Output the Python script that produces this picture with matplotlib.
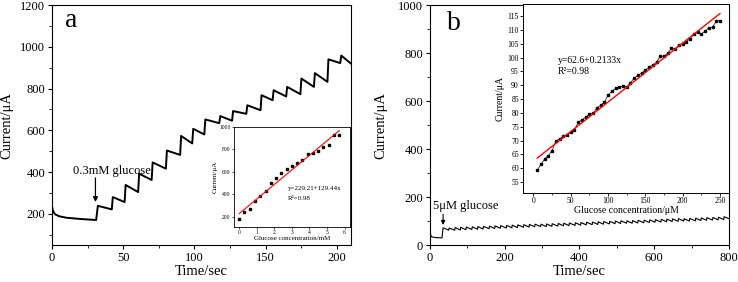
import matplotlib
matplotlib.use('Agg')
import matplotlib.pyplot as plt
from matplotlib.ticker import MultipleLocator

plt.rcParams['font.family'] = ['Liberation Serif', 'DejaVu Serif']
plt.rcParams['mathtext.fontset'] = 'stix'

# ---- panel a: amperometric trace (0.3 mM additions) ----
a_start_t = [0, 0.6, 2, 5, 10, 20, 31]
a_start_v = [236, 215, 198, 188, 181, 175, 170]
a_step_t = [31.5, 42, 51, 60.5, 70, 80, 90, 98.5, 107, 117.5, 126.5, 136.5,
            146.5, 155, 164.5, 174.5, 184, 193.5, 202.5]
a_peak = [238, 280, 338, 392, 446, 503, 573, 607, 652, 668, 692, 720,
          768, 792, 808, 848, 874, 940, 958]
a_trough = [221, 256, 304, 362, 416, 482, 537, 580, 634, 646, 679, 696,
            744, 762, 773, 808, 832, 922, 920]
a_end_t = 210

# inset a: calibration
a_conc = [0, 0.3, 0.6, 0.9, 1.2, 1.5, 1.8, 2.1, 2.4, 2.7, 3.0, 3.3, 3.6,
          3.9, 4.2, 4.5, 4.8, 5.1, 5.4, 5.7]
a_curr = [180, 240, 272, 338, 389, 434, 503, 545, 587, 623, 653, 683, 707,
          757, 766, 784, 820, 838, 928, 928]
a_fit_x = [0, 5.7]
a_fit_y = [229.21, 967.02]

# ---- panel b: amperometric trace (5 uM additions) ----
b_start_t = [0, 0.5, 2, 5, 15, 32]
b_start_v = [95, 60, 40, 34, 31, 30]
b_step_t = [34, 50, 66, 81, 96, 112, 127, 142, 158, 173, 188, 204, 219, 234,
            250, 265, 280, 296, 311, 326, 342, 357, 372, 388, 403, 418, 434,
            449, 464, 480, 495, 510, 526, 541, 556, 572, 587, 602, 618, 633,
            648, 664, 679, 694, 710, 725, 740, 756, 771, 786]
b_peak = [72, 71, 73, 74, 75, 76, 77, 78, 79, 80, 81, 82, 83, 84, 85, 86,
          87, 87, 88, 89, 90, 91, 92, 93, 94, 95, 96, 97, 98, 99, 100, 101,
          101, 102, 103, 104, 105, 106, 107, 108, 109, 110, 110, 111, 112,
          113, 114, 115, 116, 118]
b_trough = [62, 62, 63, 64, 65, 66, 67, 68, 69, 70, 71, 72, 73, 74, 75, 76,
            77, 77, 78, 79, 80, 81, 82, 83, 84, 85, 86, 87, 88, 89, 90, 91,
            91, 92, 93, 94, 95, 96, 97, 98, 99, 100, 100, 101, 102, 103, 104,
            105, 106, 110]
b_end_t = 800

# inset b: calibration
b_conc = list(range(5, 255, 5))
b_curr = [59.2, 61.4, 63.4, 64.6, 66.4, 69.8, 70.7, 71.5, 72.2, 73.0, 73.9,
          76.6, 77.5, 78.5, 79.5, 79.9, 81.9, 82.7, 83.9, 86.4, 87.8, 88.9,
          89.3, 89.8, 89.3, 91.0, 92.5, 93.6, 94.4, 95.4, 96.6, 97.3, 98.4,
          100.5, 100.5, 101.6, 103.4, 103.2, 104.6, 105.0, 105.8, 106.9,
          108.4, 109.1, 108.6, 109.5, 110.8, 111.0, 113.1, 113.4]
b_fit_x = [5, 250]
b_fit_y = [63.67, 115.93]


def build_trace(start_t, start_v, step_t, peak, trough, end_t, rise):
    t = list(start_t)
    v = list(start_v)
    for i in range(len(step_t)):
        nxt = step_t[i + 1] if i + 1 < len(step_t) else end_t
        t += [step_t[i] + rise, nxt]
        v += [peak[i], trough[i]]
    return t, v


fig = plt.figure(figsize=(7.38, 2.82), dpi=100)

# panel a
ax1 = fig.add_axes([0.0705, 0.131, 0.405, 0.851])
ta, va = build_trace(a_start_t, a_start_v, a_step_t, a_peak, a_trough, a_end_t, 0.7)
ax1.plot(ta, va, color='black', lw=1.4)
ax1.set_xlim(0, 210)
ax1.set_ylim(50, 1200)
ax1.xaxis.set_major_locator(MultipleLocator(50))
ax1.xaxis.set_minor_locator(MultipleLocator(25))
ax1.yaxis.set_major_locator(MultipleLocator(200))
ax1.yaxis.set_minor_locator(MultipleLocator(100))
ax1.tick_params(labelsize=9, direction='out', length=3, pad=2)
ax1.tick_params(which='minor', length=2)
ax1.set_xlabel('Time/sec', fontsize=10.5, labelpad=1)
ax1.set_ylabel('Current/μA', fontsize=10.5, labelpad=5)
ax1.text(9, 1128, 'a', fontsize=20, va='center')
ax1.text(14.5, 406, '0.3mM glucose', fontsize=9, va='center')
ax1.annotate('', xy=(30.5, 243), xytext=(30.5, 385),
             arrowprops=dict(arrowstyle='-|>', color='black', lw=0.9,
                             mutation_scale=7))

ins1 = fig.add_axes([0.317, 0.195, 0.157, 0.355])
ins1.plot(a_conc, a_curr, 's', color='black', ms=1.8)
ins1.plot(a_fit_x, a_fit_y, color='red', lw=0.8)
ins1.set_xlim(-0.3, 6.3)
ins1.set_ylim(110, 1000)
ins1.xaxis.set_major_locator(MultipleLocator(1))
ins1.yaxis.set_major_locator(MultipleLocator(200))
ins1.tick_params(labelsize=4, direction='out', length=1.5, pad=1, width=0.5)
ins1.set_xlabel('Glucose concentration/mM', fontsize=5, labelpad=0.5)
ins1.set_ylabel('Current/μA', fontsize=5, labelpad=1)
ins1.text(2.77, 448, 'y=229.21+129.44x', fontsize=5, va='center')
ins1.text(2.77, 367, 'R²=0.98', fontsize=5, va='center')
for s in ins1.spines.values():
    s.set_linewidth(0.6)

# panel b
ax2 = fig.add_axes([0.5827, 0.131, 0.405, 0.851])
tb, vb = build_trace(b_start_t, b_start_v, b_step_t, b_peak, b_trough, b_end_t, 1.0)
ax2.plot(tb, vb, color='black', lw=0.8)
ax2.set_xlim(0, 800)
ax2.set_ylim(0, 1000)
ax2.xaxis.set_major_locator(MultipleLocator(200))
ax2.xaxis.set_minor_locator(MultipleLocator(100))
ax2.yaxis.set_major_locator(MultipleLocator(200))
ax2.yaxis.set_minor_locator(MultipleLocator(100))
ax2.tick_params(labelsize=9, direction='out', length=3, pad=2)
ax2.tick_params(which='minor', length=2)
ax2.set_xlabel('Time/sec', fontsize=10.5, labelpad=1)
ax2.set_ylabel('Current/μA', fontsize=10.5, labelpad=8)
ax2.text(45, 925, 'b', fontsize=20, va='center')
ax2.text(8, 162, '5μM glucose', fontsize=9, va='center')
ax2.annotate('', xy=(35, 72), xytext=(35, 140),
             arrowprops=dict(arrowstyle='-|>', color='black', lw=0.8,
                             mutation_scale=6))

ins2 = fig.add_axes([0.7087, 0.315, 0.279, 0.67])
ins2.plot(b_conc, b_curr, '-s', color='black', ms=2, lw=0.5)
ins2.plot(b_fit_x, b_fit_y, color='red', lw=1.0)
ins2.set_xlim(-14, 262)
ins2.set_ylim(51, 119.3)
ins2.xaxis.set_major_locator(MultipleLocator(50))
ins2.xaxis.set_minor_locator(MultipleLocator(25))
ins2.yaxis.set_major_locator(MultipleLocator(5))
ins2.tick_params(labelsize=5.5, direction='out', length=2, pad=1, width=0.6)
ins2.tick_params(which='minor', length=1.2, width=0.5)
ins2.set_xlabel('Glucose concentration/μM', fontsize=7, labelpad=0.5)
ins2.set_ylabel('Current/μA', fontsize=7, labelpad=2)
ins2.text(33, 99, 'y=62.6+0.2133x', fontsize=7, va='center')
ins2.text(33, 95, 'R²=0.98', fontsize=7, va='center')
for s in ins2.spines.values():
    s.set_linewidth(0.7)

fig.savefig('out.png', dpi=100)
